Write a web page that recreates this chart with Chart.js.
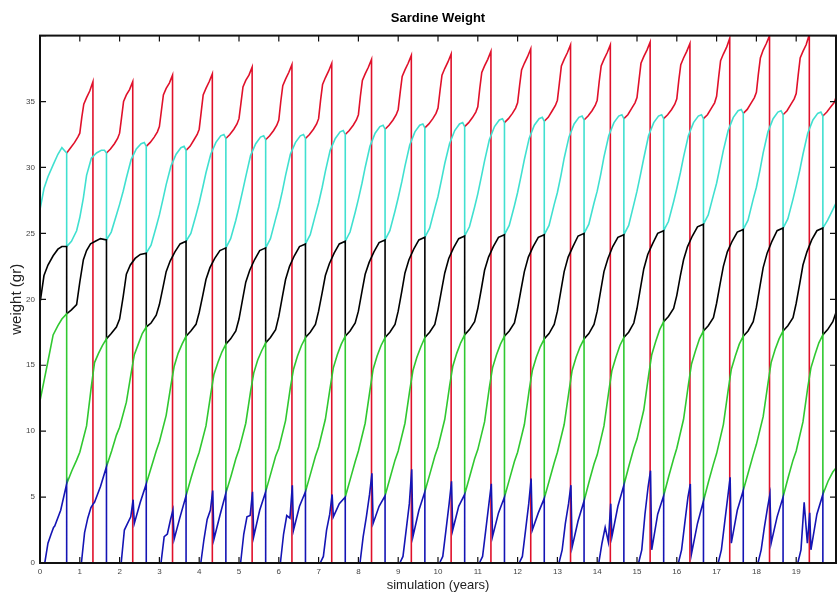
<!DOCTYPE html>
<html>
<head>
<meta charset="utf-8">
<script src="https://cdn.jsdelivr.net/npm/chart.js@4/dist/chart.umd.min.js"></script>
<style>
    html, body { margin: 0; padding: 0; background: #fff; }
</style>
</head>
<body>
<canvas id="chart" width="840" height="597"></canvas>
<script>
// simulated years shown on the x axis
const xMax = 20;
const yMax = 40;
// time within the year when every cohort moves up one age class
const shiftTime = 0.67;

// phase offsets (years) of the sampled points inside one cycle
const firstPhase = [0, 0.1, 0.2, 0.33, 0.45, 0.55, 0.67];
const bluePhase = [0.04, 0.12, 0.2, 0.28, 0.34, 0.37, 0.52, 0.67];
const greenPhase = [0, 0.13, 0.25, 0.33, 0.5, 0.62, 0.7, 0.8, 0.9, 1.0];
const blackPhase = [0, 0.12, 0.25, 0.33, 0.42, 0.5, 0.6, 0.72, 0.85, 1.0];
const cyanPhase = [0, 0.12, 0.25, 0.33, 0.42, 0.5, 0.62, 0.75, 0.87, 0.95, 1.0];
const redPhase = [0, 0.1, 0.2, 0.28, 0.33, 0.38, 0.43, 0.5, 0.58, 0.66];

// weights before the first shift (x 0 -> 0.67)
const greenFirst = [12.3, 13.8, 15.3, 17.3, 18.0, 18.5, 18.9];
const blackFirst = [19.7, 21.8, 22.6, 23.3, 23.8, 24.0, 24.0];
const cyanFirst = [26.8, 28.4, 29.3, 30.2, 31.0, 31.5, 31.1];

// age 0, one row per year (starts at the year, ends at the shift)
const blue = [
    [0, 0, 1.5, 2.2, 2.7, 2.8, 4.0, 6.0],
    [0, 2.3, 3.4, 4.2, 4.5, 4.6, 5.8, 7.3],
    [0, 2.5, 3.0, 3.5, 4.8, 3.0, 4.6, 6.0],
    [0, 2.0, 2.2, 3.3, 4.0, 1.8, 3.5, 5.1],
    [0, 1.8, 3.3, 4.0, 5.5, 1.8, 3.6, 5.3],
    [0, 2.2, 3.5, 3.6, 5.4, 2.0, 4.0, 5.4],
    [0, 2.2, 3.6, 3.4, 5.9, 2.5, 4.3, 5.4],
    [0, 0.5, 2.5, 3.7, 5.2, 3.5, 4.5, 5.0],
    [0, 2.0, 3.5, 5.2, 6.8, 3.0, 4.3, 5.1],
    [0, 0.5, 2.5, 4.5, 7.1, 2.0, 4.0, 5.4],
    [0, 0.5, 2.5, 4.5, 6.2, 2.5, 4.3, 5.2],
    [0, 0.5, 2.5, 4.5, 6.0, 2.0, 3.8, 5.0],
    [0, 0.5, 2.5, 4.5, 6.4, 2.5, 3.8, 4.9],
    [0, 1.0, 3.0, 4.5, 5.9, 1.2, 3.2, 4.7],
    [0, 1.5, 2.7, 1.6, 4.5, 2.0, 4.3, 5.9],
    [0, 1.0, 3.7, 5.8, 7.0, 1.0, 3.7, 5.1],
    [0, 1.0, 3.0, 5.0, 6.0, 0.7, 3.0, 4.7],
    [0, 1.0, 3.0, 5.0, 6.5, 1.5, 4.0, 5.5],
    [0, 1.0, 2.7, 4.2, 5.2, 1.5, 3.5, 5.0],
    [0, 1.0, 4.6, 1.5, 3.8, 1.0, 3.7, 5.2]
];

// age 1, one row per cycle starting at year + 0.67
const green = [
    [6.0, 7.0, 7.8, 8.4, 10.4, 13.4, 15.2, 15.9, 16.5, 17.0],
    [7.3, 8.5, 9.7, 10.3, 12.2, 14.4, 15.8, 16.6, 17.4, 17.9],
    [6.0, 7.3, 8.5, 9.2, 11.2, 13.5, 14.9, 15.9, 16.6, 17.2],
    [5.1, 6.5, 7.7, 8.4, 10.4, 12.8, 14.3, 15.2, 16.0, 16.6],
    [5.3, 6.6, 7.9, 8.6, 10.6, 13.0, 14.4, 15.4, 16.1, 16.7],
    [5.4, 6.8, 8.1, 8.7, 10.8, 13.3, 14.7, 15.7, 16.5, 17.1],
    [5.4, 6.8, 8.1, 8.8, 10.9, 13.3, 14.8, 15.8, 16.6, 17.2],
    [5.0, 6.4, 7.7, 8.5, 10.6, 13.1, 14.7, 15.7, 16.5, 17.1],
    [5.1, 6.5, 7.8, 8.5, 10.6, 13.1, 14.6, 15.6, 16.4, 17.1],
    [5.4, 6.8, 8.1, 8.8, 10.9, 13.4, 14.9, 15.9, 16.7, 17.3],
    [5.2, 6.6, 7.9, 8.6, 10.7, 13.3, 14.8, 15.8, 16.6, 17.2],
    [5.0, 6.4, 7.7, 8.4, 10.5, 13.1, 14.6, 15.6, 16.4, 17.0],
    [4.9, 6.3, 7.6, 8.4, 10.5, 13.0, 14.6, 15.6, 16.4, 17.0],
    [4.7, 6.2, 7.5, 8.2, 10.4, 13.0, 14.6, 15.6, 16.5, 17.1],
    [5.9, 7.4, 8.7, 9.4, 11.6, 14.2, 15.8, 16.8, 17.7, 18.3],
    [5.1, 6.6, 7.9, 8.7, 10.9, 13.5, 15.1, 16.1, 17.0, 17.6],
    [4.7, 6.2, 7.5, 8.3, 10.5, 13.1, 14.7, 15.7, 16.6, 17.2],
    [5.5, 6.9, 8.2, 9.0, 11.1, 13.6, 15.2, 16.2, 17.0, 17.6],
    [5.0, 6.5, 7.8, 8.5, 10.7, 13.3, 14.8, 15.8, 16.7, 17.3],
    [5.2, 6.2, 6.9, 7.2]
];

// age 2
const black = [
    [18.9, 19.2, 19.6, 21.3, 23.0, 23.7, 24.2, 24.4, 24.6, 24.5],
    [17.0, 17.4, 17.9, 18.5, 20.2, 21.9, 22.6, 23.1, 23.4, 23.5],
    [17.9, 18.2, 18.8, 19.6, 20.9, 22.1, 22.9, 23.6, 24.2, 24.4],
    [17.2, 17.6, 18.1, 19.0, 20.3, 21.5, 22.4, 23.1, 23.7, 23.9],
    [16.6, 17.0, 17.6, 18.5, 20.0, 21.3, 22.2, 23.0, 23.7, 23.9],
    [16.7, 17.1, 17.7, 18.7, 20.2, 21.5, 22.5, 23.3, 24.0, 24.2],
    [17.1, 17.5, 18.1, 19.1, 20.5, 21.8, 22.7, 23.5, 24.2, 24.4],
    [17.2, 17.6, 18.2, 19.1, 20.6, 21.9, 22.8, 23.6, 24.3, 24.5],
    [17.1, 17.5, 18.1, 19.1, 20.6, 22.0, 23.0, 23.8, 24.5, 24.7],
    [17.1, 17.5, 18.1, 19.2, 20.7, 22.0, 23.1, 23.9, 24.6, 24.8],
    [17.3, 17.7, 18.3, 19.3, 20.8, 22.2, 23.2, 24.0, 24.7, 24.9],
    [17.2, 17.6, 18.2, 19.3, 20.8, 22.1, 23.2, 24.0, 24.7, 24.9],
    [17.0, 17.4, 18.1, 19.1, 20.7, 22.1, 23.2, 24.0, 24.8, 25.0],
    [17.0, 17.4, 18.1, 19.1, 20.7, 22.1, 23.1, 24.0, 24.7, 24.9],
    [17.1, 17.5, 18.2, 19.3, 20.9, 22.3, 23.4, 24.2, 25.0, 25.2],
    [18.3, 18.7, 19.3, 20.3, 21.8, 23.0, 24.0, 24.8, 25.5, 25.7],
    [17.6, 18.0, 18.6, 19.7, 21.2, 22.5, 23.6, 24.4, 25.1, 25.3],
    [17.2, 17.6, 18.3, 19.4, 21.0, 22.4, 23.5, 24.4, 25.2, 25.4],
    [17.6, 18.0, 18.6, 19.7, 21.2, 22.6, 23.6, 24.5, 25.2, 25.4],
    [17.3, 17.7, 18.3, 19.0]
];

// age 3
const cyan = [
    [24.0, 24.4, 25.2, 26.2, 27.7, 29.4, 30.7, 31.1, 31.3, 31.3, 31.1],
    [24.5, 25.1, 26.4, 27.2, 28.2, 29.2, 30.6, 31.4, 31.8, 31.9, 31.6],
    [23.5, 24.1, 25.5, 26.4, 27.6, 28.7, 30.1, 31.0, 31.5, 31.6, 31.3],
    [24.4, 25.0, 26.4, 27.3, 28.5, 29.6, 31.0, 31.9, 32.4, 32.5, 32.2],
    [23.9, 24.6, 26.0, 27.0, 28.2, 29.3, 30.9, 31.8, 32.3, 32.4, 32.1],
    [23.9, 24.6, 26.1, 27.0, 28.2, 29.4, 31.0, 31.9, 32.4, 32.5, 32.2],
    [24.2, 24.9, 26.4, 27.3, 28.5, 29.7, 31.3, 32.2, 32.7, 32.8, 32.5],
    [24.4, 25.1, 26.6, 27.6, 28.8, 30.0, 31.6, 32.6, 33.1, 33.2, 32.9],
    [24.5, 25.2, 26.7, 27.7, 28.9, 30.1, 31.7, 32.7, 33.2, 33.3, 33.0],
    [24.7, 25.4, 26.9, 27.8, 29.1, 30.3, 31.8, 32.8, 33.3, 33.4, 33.1],
    [24.8, 25.5, 27.0, 28.0, 29.3, 30.5, 32.1, 33.1, 33.6, 33.7, 33.4],
    [24.9, 25.6, 27.1, 28.1, 29.4, 30.6, 32.2, 33.2, 33.7, 33.8, 33.5],
    [24.9, 25.6, 27.2, 28.1, 29.4, 30.7, 32.3, 33.3, 33.8, 33.9, 33.6],
    [25.0, 25.7, 27.3, 28.2, 29.5, 30.8, 32.4, 33.4, 33.9, 34.0, 33.7],
    [24.9, 25.6, 27.2, 28.2, 29.5, 30.7, 32.4, 33.4, 33.9, 34.0, 33.7],
    [25.2, 25.9, 27.4, 28.4, 29.6, 30.8, 32.4, 33.4, 33.9, 34.0, 33.7],
    [25.7, 26.4, 27.9, 28.8, 30.1, 31.3, 32.8, 33.8, 34.3, 34.4, 34.1],
    [25.3, 26.0, 27.6, 28.5, 29.8, 31.1, 32.7, 33.7, 34.2, 34.3, 34.0],
    [25.4, 26.1, 27.6, 28.6, 29.8, 31.0, 32.6, 33.6, 34.1, 34.2, 33.9],
    [25.4, 26.0, 26.8, 27.3]
];

// age 4, removed at year + 1.33
const red = [
    [31.1, 31.5, 31.9, 32.3, 32.6, 33.8, 34.8, 35.3, 35.8, 36.5],
    [31.1, 31.4, 31.8, 32.2, 32.6, 33.8, 35.0, 35.5, 35.9, 36.5],
    [31.6, 31.9, 32.3, 32.7, 33.1, 34.3, 35.5, 36.0, 36.4, 37.0],
    [31.3, 31.6, 32.1, 32.5, 32.9, 34.2, 35.5, 36.0, 36.5, 37.1],
    [32.2, 32.5, 32.9, 33.3, 33.7, 34.9, 36.1, 36.6, 37.0, 37.6],
    [32.1, 32.4, 32.8, 33.2, 33.6, 35.0, 36.2, 36.7, 37.2, 37.8],
    [32.2, 32.5, 32.9, 33.3, 33.7, 35.1, 36.3, 36.8, 37.3, 37.9],
    [32.5, 32.8, 33.2, 33.6, 34.0, 35.4, 36.6, 37.1, 37.6, 38.2],
    [32.9, 33.2, 33.6, 34.0, 34.4, 35.7, 36.9, 37.4, 37.9, 38.5],
    [33.0, 33.3, 33.7, 34.1, 34.5, 35.8, 37.0, 37.5, 38.0, 38.6],
    [33.1, 33.4, 33.8, 34.2, 34.6, 36.0, 37.2, 37.7, 38.2, 38.8],
    [33.4, 33.7, 34.1, 34.5, 34.9, 36.2, 37.4, 37.9, 38.4, 39.0],
    [33.5, 33.8, 34.3, 34.7, 35.1, 36.4, 37.7, 38.2, 38.7, 39.3],
    [33.6, 33.9, 34.3, 34.7, 35.1, 36.5, 37.7, 38.2, 38.7, 39.3],
    [33.7, 34.0, 34.5, 34.9, 35.3, 36.6, 37.9, 38.4, 38.9, 39.5],
    [33.7, 34.0, 34.4, 34.8, 35.2, 36.6, 37.8, 38.3, 38.8, 39.4],
    [33.7, 34.0, 34.5, 34.9, 35.4, 36.8, 38.1, 38.6, 39.1, 39.8],
    [34.1, 34.4, 34.9, 35.3, 35.7, 37.1, 38.3, 38.9, 39.4, 40.0],
    [34.0, 34.3, 34.8, 35.2, 35.6, 37.0, 38.3, 38.8, 39.3, 40.1],
    [33.9, 34.2, 34.6, 34.9, 35.3]
];

const FONT = "'Liberation Sans', Arial, sans-serif";

// age classes 1-3 run on without breaks: each shift is a vertical drop
function cohortLine(first, cycles, phase) {
    const out = first.map((y, i) => ({x: firstPhase[i], y}));
    cycles.forEach((vals, j) => {
        vals.forEach((y, i) => out.push({x: j + shiftTime + phase[i], y}));
    });
    return out;
}

// blue and red drop to zero and restart later
function blueLine() {
    const out = [];
    const last = bluePhase.length - 1;
    blue.forEach((vals, k) => {
        vals.forEach((y, i) => out.push({x: k + bluePhase[i], y}));
        out.push({x: k + bluePhase[last], y: 0});
        out.push({x: k + bluePhase[last], y: null});
    });
    return out;
}

function redLine() {
    const out = [];
    const last = redPhase.length - 1;
    red.forEach((vals, j) => {
        vals.forEach((y, i) => out.push({x: j + shiftTime + redPhase[i], y}));
        if (vals.length === redPhase.length) {
            out.push({x: j + shiftTime + redPhase[last], y: 0});
            out.push({x: j + shiftTime + redPhase[last], y: null});
        }
    });
    return out;
}

function series(data, color, order) {
    return {
        data,
        borderColor: color,
        backgroundColor: color,
        borderWidth: 1.6,
        pointRadius: 0,
        tension: 0,
        spanGaps: false,
        order
    };
}

// MATLAB style box with ticks pointing inwards
const frame = {
    id: 'frame',
    afterDatasetsDraw(chart) {
        const {ctx, chartArea: a, scales: {x, y}} = chart;
        const len = 6;
        ctx.save();
        ctx.strokeStyle = '#111';
        ctx.lineWidth = 1.2;
        ctx.beginPath();
        x.ticks.forEach(t => {
            const px = x.getPixelForValue(t.value);
            ctx.moveTo(px, a.bottom); ctx.lineTo(px, a.bottom - len);
            ctx.moveTo(px, a.top); ctx.lineTo(px, a.top + len);
        });
        y.ticks.forEach(t => {
            const py = y.getPixelForValue(t.value);
            ctx.moveTo(a.left, py); ctx.lineTo(a.left + len, py);
            ctx.moveTo(a.right, py); ctx.lineTo(a.right - len, py);
        });
        ctx.stroke();
        ctx.lineWidth = 2;
        ctx.strokeRect(a.left, a.top, a.right - a.left, a.bottom - a.top);
        ctx.restore();
    }
};

new Chart(document.getElementById('chart'), {
    type: 'line',
    data: {
        datasets: [
            series(blueLine(), '#1414b4', 0),
            series(cohortLine(greenFirst, green, greenPhase), '#30c830', 1),
            series(cohortLine(blackFirst, black, blackPhase), '#000000', 2),
            series(cohortLine(cyanFirst, cyan, cyanPhase), '#40e0d0', 3),
            series(redLine(), '#e0102a', 4)
        ]
    },
    options: {
        responsive: false,
        animation: false,
        devicePixelRatio: 1,
        layout: {padding: {left: 0, right: 2, top: 0, bottom: 0}},
        plugins: {
            legend: {display: false},
            tooltip: {enabled: false},
            title: {
                display: true,
                text: 'Sardine Weight',
                fullSize: false,
                color: '#000',
                font: {family: FONT, size: 13, weight: 'bold'},
                padding: {top: 11, bottom: 9}
            }
        },
        scales: {
            x: {
                type: 'linear',
                min: 0,
                max: xMax,
                grid: {display: false, drawTicks: false},
                border: {display: false},
                ticks: {
                    stepSize: 1,
                    autoSkip: false,
                    maxRotation: 0,
                    padding: 4,
                    color: '#444',
                    font: {family: FONT, size: 8},
                    callback: v => v === xMax ? '' : v
                },
                title: {
                    display: true,
                    text: 'simulation (years)',
                    color: '#222',
                    font: {family: FONT, size: 13},
                    padding: {top: 0, bottom: 4}
                },
                afterFit: s => { s.height = 34; }
            },
            y: {
                type: 'linear',
                min: 0,
                max: yMax,
                grid: {display: false, drawTicks: false},
                border: {display: false},
                ticks: {
                    stepSize: 5,
                    padding: 5,
                    color: '#444',
                    font: {family: FONT, size: 8},
                    callback: v => v === yMax ? '' : v
                },
                title: {
                    display: true,
                    text: 'weight (gr)',
                    color: '#222',
                    font: {family: FONT, size: 15},
                    padding: {top: 8, bottom: 0}
                },
                afterFit: s => { s.width = 40; }
            }
        }
    },
    plugins: [frame]
});
</script>
</body>
</html>
